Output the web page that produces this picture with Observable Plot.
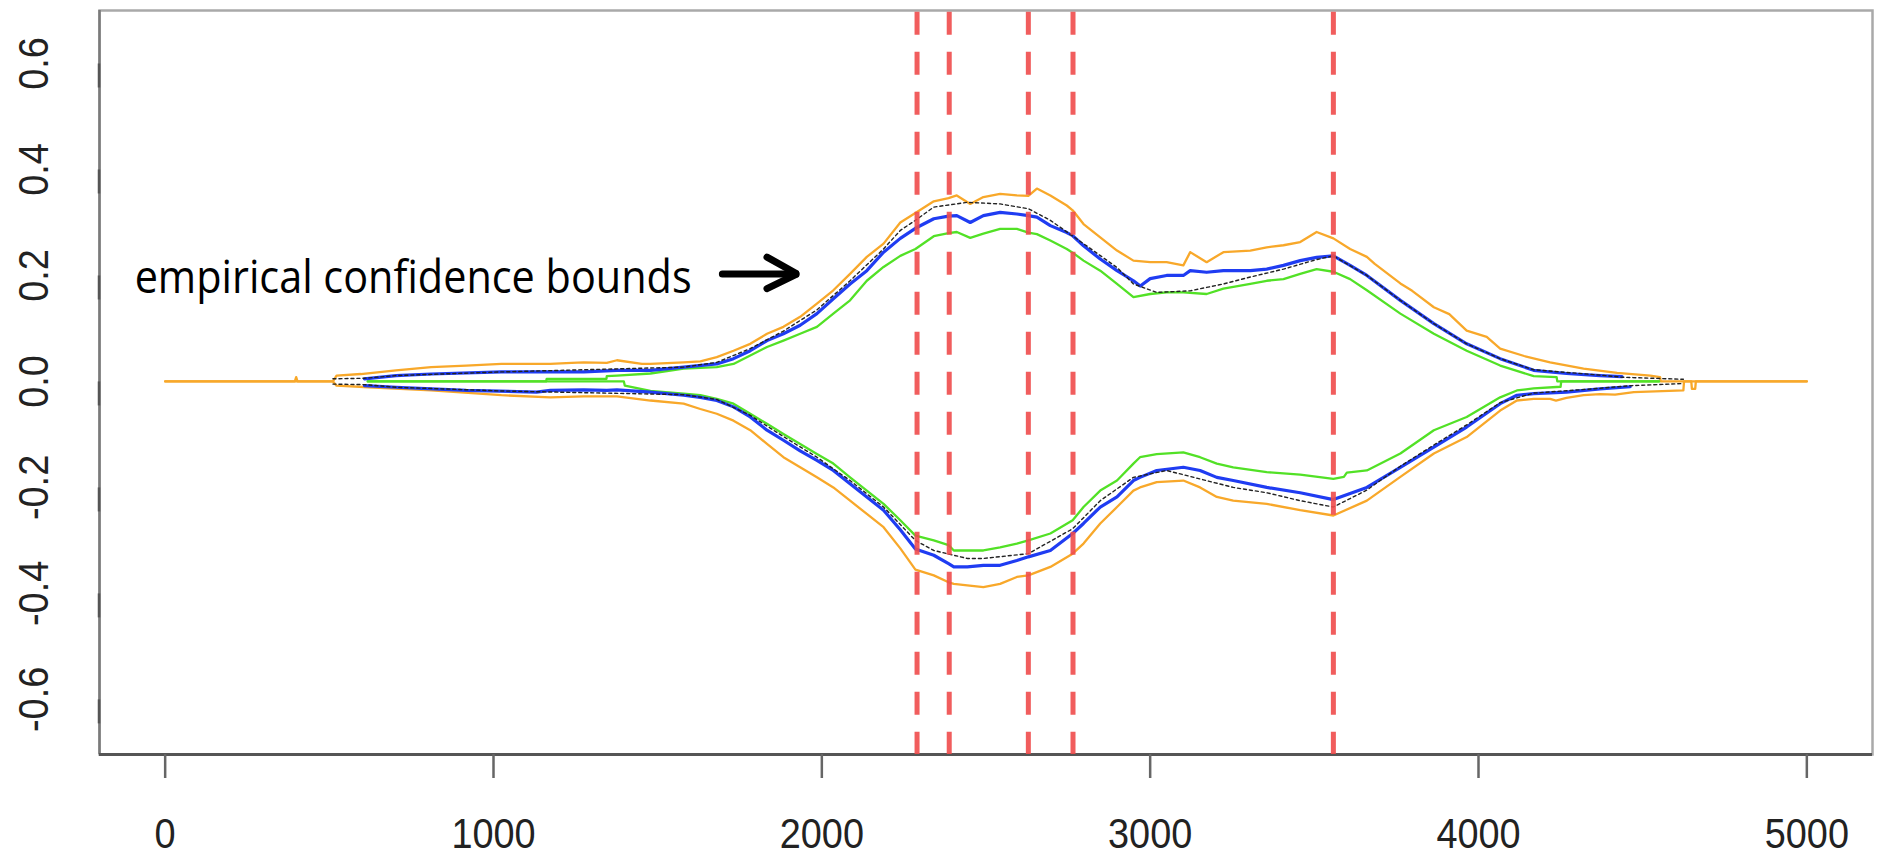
<!DOCTYPE html>
<html>
<head>
<meta charset="utf-8">
<script src="https://cdn.jsdelivr.net/npm/d3@7"></script>
<script src="https://cdn.jsdelivr.net/npm/@observablehq/plot@0.6"></script>
<style>
  html, body { margin: 0; padding: 0; background: #fff; }
  #chart { width: 1885px; height: 853px; }
</style>
</head>
<body>
<div id="chart"></div>
<script>
// ---- axes ----
const xDomain = [-200, 5200];
const yDomain = [-0.704, 0.700];
const xTicks = [0, 1000, 2000, 3000, 4000, 5000];
const yTicks = [-0.6, -0.4, -0.2, 0, 0.2, 0.4, 0.6];

// ---- change points (red dashed lines) ----
const changePoints = [2290, 2388, 2629, 2765, 3558];

// ---- upper curves ----
const orangeUpper = [[0,0],[395,0],[399,0.008],[403,0],[511,0],[522,0.011],[596,0.014],[703,0.021],[810,0.027],[917,0.030],[1024,0.033],[1131,0.033],[1173,0.033],[1238,0.035],[1275,0.036],[1345,0.035],[1376,0.040],[1452,0.033],[1478,0.033],[1579,0.036],[1630,0.038],[1680,0.046],[1731,0.058],[1782,0.071],[1833,0.090],[1883,0.103],[1934,0.122],[1985,0.147],[2035,0.172],[2086,0.203],[2137,0.235],[2188,0.260],[2239,0.300],[2285,0.318],[2341,0.340],[2386,0.346],[2411,0.351],[2452,0.335],[2492,0.348],[2543,0.354],[2594,0.351],[2629,0.350],[2655,0.364],[2696,0.351],[2746,0.332],[2764,0.323],[2797,0.297],[2848,0.272],[2899,0.247],[2949,0.228],[3000,0.225],[3050,0.225],[3101,0.219],[3122,0.244],[3172,0.225],[3223,0.244],[3305,0.247],[3355,0.253],[3406,0.257],[3457,0.263],[3507,0.282],[3558,0.270],[3609,0.250],[3660,0.235],[3684,0.222],[3762,0.185],[3798,0.171],[3864,0.140],[3911,0.127],[3964,0.096],[4025,0.084],[4066,0.062],[4139,0.048],[4218,0.036],[4320,0.024],[4422,0.016],[4523,0.011],[4553,0.008],[4555,0],[5000,0]];
const blueUpper = [[607,0.005],[703,0.011],[810,0.014],[1024,0.018],[1173,0.018],[1275,0.018],[1376,0.021],[1478,0.021],[1579,0.027],[1680,0.033],[1731,0.043],[1782,0.058],[1833,0.077],[1883,0.090],[1934,0.106],[1985,0.128],[2035,0.156],[2086,0.184],[2137,0.209],[2188,0.244],[2239,0.270],[2285,0.289],[2341,0.307],[2386,0.312],[2411,0.313],[2452,0.300],[2492,0.313],[2543,0.319],[2594,0.316],[2629,0.313],[2655,0.310],[2696,0.294],[2746,0.281],[2764,0.275],[2797,0.256],[2848,0.231],[2899,0.209],[2949,0.190],[2970,0.180],[3000,0.194],[3050,0.200],[3101,0.200],[3122,0.209],[3172,0.206],[3223,0.209],[3305,0.209],[3355,0.212],[3406,0.219],[3457,0.228],[3507,0.234],[3558,0.237],[3609,0.219],[3660,0.200],[3762,0.153],[3864,0.109],[3964,0.071],[4066,0.043],[4168,0.021],[4268,0.015],[4370,0.011],[4437,0.009]];
const greenUpper = [[617,0],[1160,0],[1162,0.005],[1344,0.005],[1345,0.010],[1376,0.011],[1478,0.015],[1579,0.024],[1680,0.027],[1731,0.033],[1782,0.049],[1833,0.065],[1883,0.077],[1934,0.090],[1985,0.103],[2035,0.128],[2086,0.153],[2137,0.190],[2188,0.216],[2239,0.237],[2285,0.250],[2341,0.274],[2386,0.280],[2411,0.282],[2452,0.271],[2492,0.279],[2543,0.288],[2594,0.288],[2629,0.281],[2655,0.278],[2696,0.266],[2746,0.250],[2764,0.243],[2797,0.228],[2848,0.209],[2899,0.184],[2949,0.159],[3000,0.165],[3050,0.168],[3101,0.168],[3172,0.165],[3223,0.175],[3305,0.184],[3355,0.190],[3406,0.193],[3457,0.203],[3507,0.212],[3558,0.207],[3609,0.193],[3660,0.172],[3762,0.128],[3864,0.090],[3964,0.058],[4066,0.030],[4168,0.010],[4238,0.008],[4240,0],[4550,0]];
const trueUpper = [[511,0.005],[607,0.006],[703,0.011],[1024,0.018],[1579,0.027],[1680,0.036],[1782,0.062],[1883,0.095],[1985,0.135],[2086,0.190],[2188,0.250],[2239,0.285],[2285,0.304],[2341,0.329],[2443,0.338],[2543,0.335],[2629,0.326],[2696,0.304],[2797,0.260],[2899,0.215],[2949,0.184],[3020,0.168],[3122,0.171],[3223,0.184],[3305,0.197],[3406,0.212],[3507,0.230],[3558,0.237],[3660,0.200],[3762,0.153],[3864,0.109],[3964,0.071],[4066,0.043],[4168,0.022],[4370,0.012],[4437,0.008],[4624,0.004]];

// ---- lower curves ----
const orangeLower = [[0,0],[511,0],[522,-0.008],[620,-0.011],[810,-0.017],[1024,-0.026],[1173,-0.030],[1275,-0.028],[1376,-0.028],[1478,-0.036],[1579,-0.042],[1630,-0.052],[1680,-0.061],[1731,-0.074],[1782,-0.092],[1833,-0.118],[1883,-0.143],[1934,-0.162],[1985,-0.181],[2035,-0.200],[2086,-0.225],[2137,-0.250],[2188,-0.275],[2239,-0.315],[2285,-0.355],[2341,-0.366],[2386,-0.379],[2402,-0.382],[2443,-0.385],[2492,-0.388],[2543,-0.382],[2594,-0.369],[2629,-0.366],[2696,-0.350],[2764,-0.325],[2797,-0.306],[2848,-0.268],[2899,-0.237],[2949,-0.206],[2969,-0.200],[3020,-0.190],[3101,-0.187],[3152,-0.200],[3203,-0.218],[3253,-0.225],[3355,-0.231],[3457,-0.243],[3558,-0.253],[3660,-0.225],[3762,-0.180],[3864,-0.136],[3964,-0.105],[4066,-0.055],[4117,-0.036],[4168,-0.033],[4218,-0.033],[4236,-0.036],[4268,-0.031],[4320,-0.026],[4370,-0.024],[4416,-0.025],[4473,-0.020],[4624,-0.017],[4626,0],[4648,0],[4650,-0.014],[4660,-0.014],[4662,0],[5000,0]];
const blueLower = [[607,-0.008],[703,-0.011],[917,-0.017],[1131,-0.020],[1173,-0.017],[1275,-0.016],[1345,-0.017],[1376,-0.016],[1478,-0.020],[1579,-0.026],[1630,-0.030],[1680,-0.036],[1731,-0.048],[1782,-0.067],[1833,-0.092],[1883,-0.111],[1934,-0.131],[1985,-0.149],[2035,-0.168],[2086,-0.193],[2137,-0.218],[2188,-0.243],[2239,-0.280],[2285,-0.316],[2341,-0.328],[2386,-0.344],[2402,-0.350],[2443,-0.350],[2492,-0.347],[2543,-0.347],[2594,-0.338],[2629,-0.331],[2696,-0.319],[2764,-0.287],[2797,-0.268],[2848,-0.237],[2899,-0.218],[2949,-0.187],[2969,-0.181],[3020,-0.168],[3101,-0.162],[3152,-0.168],[3203,-0.181],[3253,-0.187],[3355,-0.200],[3457,-0.210],[3558,-0.223],[3660,-0.200],[3762,-0.162],[3864,-0.124],[3964,-0.086],[4066,-0.042],[4117,-0.026],[4168,-0.023],[4268,-0.020],[4370,-0.014],[4462,-0.010]];
const greenLower = [[617,0],[1397,0],[1400,-0.008],[1478,-0.018],[1579,-0.023],[1630,-0.026],[1680,-0.033],[1731,-0.042],[1782,-0.061],[1833,-0.080],[1883,-0.099],[1934,-0.118],[1985,-0.137],[2035,-0.155],[2086,-0.181],[2137,-0.206],[2188,-0.231],[2239,-0.262],[2285,-0.291],[2341,-0.300],[2386,-0.309],[2402,-0.319],[2443,-0.319],[2492,-0.319],[2543,-0.313],[2594,-0.306],[2629,-0.300],[2696,-0.287],[2764,-0.262],[2797,-0.237],[2848,-0.206],[2899,-0.187],[2949,-0.155],[2969,-0.143],[3020,-0.137],[3101,-0.134],[3152,-0.143],[3203,-0.155],[3253,-0.162],[3355,-0.171],[3457,-0.176],[3558,-0.184],[3590,-0.180],[3599,-0.172],[3660,-0.168],[3762,-0.136],[3864,-0.092],[3964,-0.067],[4066,-0.030],[4117,-0.017],[4168,-0.013],[4250,-0.010],[4252,0],[4550,0]];
const trueLower = [[511,-0.005],[607,-0.006],[703,-0.011],[1024,-0.018],[1579,-0.025],[1680,-0.034],[1782,-0.064],[1883,-0.104],[1985,-0.143],[2086,-0.187],[2188,-0.237],[2239,-0.270],[2285,-0.300],[2341,-0.319],[2443,-0.334],[2492,-0.334],[2629,-0.325],[2764,-0.278],[2848,-0.225],[2949,-0.181],[3050,-0.168],[3152,-0.184],[3253,-0.200],[3355,-0.210],[3457,-0.225],[3558,-0.237],[3660,-0.205],[3762,-0.160],[3864,-0.120],[3964,-0.082],[4066,-0.040],[4168,-0.022],[4370,-0.013],[4462,-0.008],[4624,-0.004]];

// ---- annotation ----
const annotationText = [{x: -93, y: 0.1666, label: "empirical confidence bounds"}];
const arrowShaft = [[1697, 0.2028], [1922, 0.2028]];
const arrowHead = [[1833, 0.2345], [1925, 0.2028], [1833, 0.175]];

const ORANGE = "#f8a82a";
const GREEN = "#52e126";
const BLUE = "#1f3cf2";
const RED = "#ef4b4b";

const px = d => d[0], py = d => d[1];

const chart = Plot.plot({
  width: 1885,
  height: 853,
  marginLeft: 99,
  marginRight: 13,
  marginTop: 10,
  marginBottom: 99,
  style: {fontFamily: "'Liberation Sans', Arial, sans-serif", background: "#fff", overflow: "visible"},
  x: {domain: xDomain},
  y: {domain: yDomain},
  marks: [
    Plot.frame({stroke: "#a9a9a9", strokeWidth: 2.5}),
    Plot.ruleX([xDomain[0]], {stroke: "#7a7a7a", strokeWidth: 2.5}),
    Plot.ruleY([yDomain[0]], {stroke: "#555", strokeWidth: 3}),
    Plot.axisX(xTicks, {anchor: "bottom", label: null, tickSize: 24, tickFormat: () => "", stroke: "#666", strokeWidth: 2.5}),
    Plot.text(xTicks, {x: d => d, frameAnchor: "bottom", dy: 93, text: d => String(d), lineAnchor: "bottom", textAnchor: "middle", fontSize: 43, fill: "#222"}),
    Plot.axisY(yTicks, {anchor: "left", label: null, tickSize: 24, tickPadding: 28, tickFormat: d => d.toFixed(1), rotate: -90, textAnchor: "middle", lineAnchor: "bottom", fontSize: 43, stroke: "#555", strokeWidth: 2.5, fill: "#222"}),
    Plot.line(orangeUpper, {x: px, y: py, stroke: ORANGE, strokeWidth: 2.3}),
    Plot.line(orangeLower, {x: px, y: py, stroke: ORANGE, strokeWidth: 2.3}),
    Plot.line(greenUpper, {x: px, y: py, stroke: GREEN, strokeWidth: 2.3}),
    Plot.line(greenLower, {x: px, y: py, stroke: GREEN, strokeWidth: 2.3}),
    Plot.line(blueUpper, {x: px, y: py, stroke: BLUE, strokeWidth: 3.2}),
    Plot.line(blueLower, {x: px, y: py, stroke: BLUE, strokeWidth: 3.2}),
    Plot.line(trueUpper, {x: px, y: py, stroke: "#222", strokeWidth: 1.4, strokeDasharray: "3,3"}),
    Plot.line(trueLower, {x: px, y: py, stroke: "#222", strokeWidth: 1.4, strokeDasharray: "3,3"}),
    Plot.ruleX(changePoints, {stroke: RED, strokeOpacity: 0.9, strokeWidth: 5, strokeDasharray: "23,17", strokeDashoffset: -1.7}),
    Plot.text(annotationText, {x: "x", y: "y", text: "label", textAnchor: "start", lineAnchor: "bottom", fontSize: 46, fontFamily: "'Open Sans', sans-serif", fill: "#000"}),
    Plot.line(arrowShaft, {x: px, y: py, stroke: "#000", strokeWidth: 7}),
    Plot.line(arrowHead, {x: px, y: py, stroke: "#000", strokeWidth: 7, strokeLinejoin: "miter"})
  ]
});

document.getElementById("chart").appendChild(chart);

const tickLabels = new Set([...xTicks.map(String), ...yTicks.map(d => d.toFixed(1))]);
chart.querySelectorAll("text").forEach(t => {
  const s = t.textContent;
  if (s === "empirical confidence bounds") {
    // fit the annotation to the width it has in the original
    t.setAttribute("textLength", "557");
    t.setAttribute("lengthAdjust", "spacingAndGlyphs");
  } else if (tickLabels.has(s)) {
    // the original tick labels use a narrower face: squeeze along the text direction
    const w = t.getComputedTextLength();
    t.setAttribute("textLength", (w * 0.88).toFixed(1));
    t.setAttribute("lengthAdjust", "spacingAndGlyphs");
  }
});
</script>
</body>
</html>
